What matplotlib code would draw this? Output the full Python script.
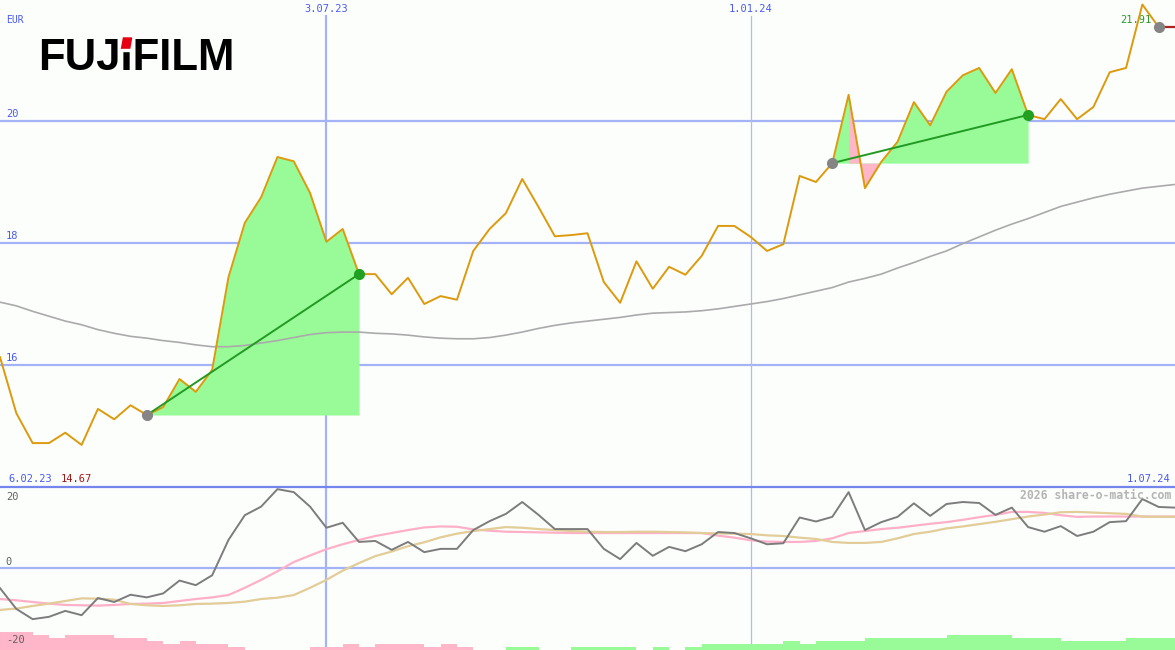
import numpy as np
import pandas as pd
import matplotlib.pyplot as plt
from matplotlib.patches import Polygon

# weekly closing prices in EUR
price = [16.13, 15.21, 14.72, 14.72, 14.89, 14.69, 15.28, 15.11, 15.34, 15.18,
         15.31, 15.77, 15.56, 15.92, 17.44, 18.33, 18.75, 19.41, 19.34, 18.82,
         18.02, 18.23, 17.49, 17.49, 17.16, 17.43, 17.00, 17.13, 17.07, 17.87,
         18.23, 18.49, 19.05, 18.59, 18.11, 18.13, 18.16, 17.36, 17.02, 17.70,
         17.25, 17.61, 17.48, 17.79, 18.28, 18.28, 18.10, 17.87, 17.98, 19.10,
         19.00, 19.31, 20.43, 18.90, 19.33, 19.66, 20.31, 19.93, 20.48, 20.75,
         20.87, 20.46, 20.85, 20.10, 20.03, 20.36, 20.03, 20.23, 20.80, 20.87,
         21.91, 21.54]

# long moving average (grey)
ma = [17.03, 16.97, 16.88, 16.80, 16.72, 16.66, 16.58, 16.52, 16.47, 16.44,
      16.40, 16.37, 16.33, 16.30, 16.30, 16.32, 16.36, 16.40, 16.45, 16.50,
      16.53, 16.54, 16.54, 16.52, 16.51, 16.49, 16.46, 16.44, 16.43, 16.43,
      16.45, 16.49, 16.54, 16.60, 16.65, 16.69, 16.72, 16.75, 16.78, 16.82,
      16.85, 16.86, 16.87, 16.89, 16.92, 16.96, 17.00, 17.04, 17.09, 17.15,
      17.21, 17.27, 17.36, 17.42, 17.49, 17.59, 17.68, 17.78, 17.87, 17.99,
      18.10, 18.21, 18.31, 18.40, 18.50, 18.60, 18.67, 18.74, 18.80, 18.85,
      18.90, 18.93, 18.96]

# lower panel: momentum and its two averages
momentum = [-6.1, -12.4, -15.5, -14.8, -13.0, -14.3, -9.1, -10.3, -8.1, -8.9,
            -7.7, -3.8, -5.2, -2.2, 8.5, 16.0, 18.6, 23.9, 23.0, 18.6,
            12.2, 13.7, 7.9, 8.2, 5.5, 7.9, 4.8, 5.8, 5.8, 11.5,
            14.2, 16.4, 20.0, 16.1, 11.8, 11.8, 11.8, 5.8, 2.7, 7.6,
            3.7, 6.4, 5.1, 7.2, 10.9, 10.6, 9.0, 7.2, 7.5, 15.3,
            14.1, 15.5, 23.0, 11.5, 13.9, 15.5, 19.6, 15.8, 19.4, 20.0,
            19.7, 16.1, 18.3, 12.4, 11.0, 12.7, 9.7, 11.0, 13.9, 14.2,
            20.9, 18.5, 18.3]
mom_fast = [-9.4, -9.8, -10.3, -10.8, -11.2, -11.3, -11.4, -11.2, -10.9, -10.8,
            -10.6, -10.0, -9.4, -8.9, -8.2, -6.0, -3.6, -1.0, 1.8, 3.8,
            5.7, 7.2, 8.5, 9.7, 10.6, 11.5, 12.3, 12.6, 12.5, 11.7,
            11.3, 11.0, 10.9, 10.8, 10.7, 10.6, 10.6, 10.6, 10.6, 10.6,
            10.6, 10.6, 10.6, 10.6, 9.8, 9.2, 8.4, 8.0, 7.9, 7.9,
            8.2, 9.0, 10.6, 11.2, 11.8, 12.2, 12.8, 13.4, 13.9, 14.6,
            15.4, 16.1, 17.0, 17.0, 16.7, 16.0, 15.5, 15.6, 15.6, 15.6,
            15.6, 15.6, 15.6]
mom_slow = [-12.7, -12.3, -11.5, -10.8, -10.0, -9.2, -9.3, -9.6, -10.9, -11.3,
            -11.5, -11.3, -10.9, -10.8, -10.6, -10.2, -9.4, -9.0, -8.2, -6.0,
            -3.6, -0.8, 1.5, 3.6, 5.0, 6.6, 7.8, 9.3, 10.4, 11.2,
            11.8, 12.4, 12.2, 11.8, 11.5, 11.2, 11.0, 10.9, 10.9, 11.0,
            11.0, 10.9, 10.8, 10.6, 10.5, 10.4, 10.3, 9.9, 9.7, 9.2,
            8.8, 7.9, 7.6, 7.6, 7.9, 9.0, 10.3, 11.0, 12.0, 12.6,
            13.3, 14.0, 14.8, 15.6, 16.2, 16.9, 17.0, 16.8, 16.6, 16.4,
            15.6, 15.5, 15.5]
# signal strength bars at the bottom (negative pink, positive green)
signal = [-6, -6, -5, -4, -5, -5, -5, -4, -4, -3,
          -2, -3, -2, -2, -1, 0, 0, 0, 0, -1,
          -1, -2, -1, -2, -2, -2, -1, -2, -1, 0,
          0, 1, 1, 0, 0, 1, 1, 1, 1, 0,
          1, 0, 1, 2, 2, 2, 2, 2, 3, 2,
          3, 3, 3, 4, 4, 4, 4, 4, 5, 5,
          5, 5, 4, 4, 4, 3, 3, 3, 3, 4,
          4, 4]

# trend periods (start index, end index)
trends = [(9, 22), (51, 63)]

start = pd.Timestamp('2023-02-13')
end = pd.Timestamp('2024-07-01')
vdates = [pd.Timestamp('2023-07-03'), pd.Timestamp('2024-01-01')]
vlabels = ['3.07.23', '1.01.24']
price_grid = [16, 18, 20]

BG = '#fcfefc'
BLUE_TXT = '#4a5af0'
GRID = '#a3b3f5'
GREEN_FILL = '#98fb98'
PINK_FILL = '#ffb6c8'
FS = 7.5

plt.rcParams['font.family'] = ['DejaVu Sans Mono']

dates = pd.date_range(start, periods=len(price), freq='7D')
ind_dates = pd.date_range(start, periods=len(momentum), freq='7D')
p = np.array(price)

fig = plt.figure(figsize=(11.75, 6.5), dpi=100, facecolor=BG)
ax = fig.add_axes([0, 163 / 650, 1, 487 / 650], facecolor=BG)
ax2 = fig.add_axes([0, 0, 1, 163 / 650], facecolor=BG)

for a in (ax, ax2):
    a.set_xlim(start, end)
    a.set_xticks([])
    a.set_yticks([])
    for s in a.spines.values():
        s.set_visible(False)

ax.set_ylim(14.0, 21.984)
ax2.set_ylim(-24.85, 24.55)

# grid
for v in price_grid:
    ax.axhline(v, color=GRID, lw=1.6, zorder=1)
    ax.text(0.005, v + 0.04, str(v), color=BLUE_TXT, fontsize=FS,
            transform=ax.get_yaxis_transform(), va='bottom')
ax.axvline(vdates[0], ymax=0.967, color=GRID, lw=1.6, zorder=1)
ax.axvline(vdates[1], ymax=0.967, color='#b4bce6', lw=0.9, zorder=1)
ax2.axvline(vdates[0], color=GRID, lw=1.6, zorder=1)
ax2.axvline(vdates[1], color='#b4bce6', lw=0.9, zorder=1)
for d, lab in zip(vdates, vlabels):
    ax.text(d, 0.982, lab, color=BLUE_TXT, fontsize=FS, ha='center', va='center',
            transform=ax.get_xaxis_transform())

# trend fills
for s, e in trends:
    base = p[s]
    xs = dates[s:e + 1]
    ys = p[s:e + 1]
    ax.fill_between(xs, ys, base, color=GREEN_FILL, lw=0, zorder=2)
    seg_pink = [min(ys[i], ys[i + 1]) < base for i in range(len(ys) - 1)]
    flag = [(i > 0 and seg_pink[i - 1]) or (i < len(seg_pink) and seg_pink[i])
            for i in range(len(ys))]
    if any(flag):
        ax.fill_between(xs, ys, base, where=flag, color=PINK_FILL, lw=0, zorder=2)
    ax.plot([dates[s], dates[e]], [p[s], p[e]], color='#229a22', lw=1.4, zorder=6)
    ax.plot(dates[s], p[s], 'o', ms=7, color='#858585', zorder=7)
    ax.plot(dates[e], p[e], 'o', ms=7, color='#22a022', zorder=7)

ax.plot(ind_dates, ma, color='#aaaaaa', lw=1.2, zorder=4)
ax.plot(dates, p, color='#dc9a0c', lw=1.4, zorder=5)
ax.plot([dates[-1], end], [p[-1], p[-1]], color='#b02222', lw=1.6, zorder=5)
ax.plot(dates[-1], p[-1], 'o', ms=7, color='#858585', zorder=7)

ax.text(0.005, 0.958, 'EUR', color=BLUE_TXT, fontsize=7, va='center',
        transform=ax.transAxes)
ax.text(0.98, 0.959, f'{p.max():.2f}', color='#2a9a2a', fontsize=FS, ha='right',
        va='center', transform=ax.transAxes)
ax.text(0.007, 0.016, '6.02.23', color=BLUE_TXT, fontsize=FS, va='center',
        transform=ax.transAxes)
ax.text(0.052, 0.016, f'{p.min() - 0.02:.2f}', color='#a01818', fontsize=FS,
        va='center', transform=ax.transAxes)
ax.text(0.996, 0.016, '1.07.24', color=BLUE_TXT, fontsize=FS, ha='right',
        va='center', transform=ax.transAxes)

# logo, with the red cap on the first I
logo_y = 0.8563
logo = ax.text(0.0323, logo_y, 'FUJIFILM', color='black', fontsize=31.5,
               family='Liberation Sans', weight='bold', va='baseline',
               transform=ax.transAxes, zorder=8)
fig.canvas.draw()
r = fig.canvas.get_renderer()
probe = ax.text(0.0323, logo_y, 'FUJ', fontsize=31.5, family='Liberation Sans',
                weight='bold', va='baseline', transform=ax.transAxes, alpha=0)
bb_fuj = probe.get_window_extent(r)
probe.set_text('FUJI')
bb_fuji = probe.get_window_extent(r)
probe.remove()
x0, x1 = bb_fuj.x1 + 2, bb_fuji.x1 - 2
base_y = ax.transAxes.transform((0, logo_y))[1]
yt, yb = base_y + 32, base_y + 21
to_fig = fig.transFigure.inverted()
red = Polygon(to_fig.transform([(x0 + 1, yt), (x1 + 1, yt), (x1 - 1, yb), (x0 - 1, yb)]),
              closed=True, transform=fig.transFigure, color='#e60012', zorder=9)
gap = Polygon(to_fig.transform([(x0 - 1, yb), (x1 + 1, yb), (x1 + 1, yb - 2), (x0 - 1, yb - 2)]),
              closed=True, transform=fig.transFigure, color=BG, zorder=9)
fig.add_artist(red)
fig.add_artist(gap)

# lower panel
ax2.spines['top'].set_visible(True)
ax2.spines['top'].set_color('#7585ee')
ax2.spines['top'].set_linewidth(1.6)
ax2.axhline(0, color=GRID, lw=1.6, zorder=1)
ax2.plot(ind_dates, mom_fast, color='#ffb0c8', lw=1.6, zorder=3)
ax2.plot(ind_dates, mom_slow, color='#e2cc98', lw=1.6, zorder=3)
ax2.plot(ind_dates, momentum, color='#7c7c7c', lw=1.4, zorder=4)

ax3 = ax2.twinx()
ax3.set_ylim(0, 163 / 3)
ax3.set_axis_off()
bar_dates = pd.date_range(start, periods=len(signal), freq='7D')
ax3.bar(bar_dates, np.abs(signal), width=7, align='edge', lw=0,
        color=[GREEN_FILL if v > 0 else PINK_FILL for v in signal], zorder=1)
ax3.set_xlim(start, end)

ax3.text(0.005, 0.94, '20', color='#606060', fontsize=FS, va='center',
         transform=ax3.transAxes)
ax3.text(0.005, 0.54, '0', color='#606060', fontsize=FS, va='center',
         transform=ax3.transAxes)
ax3.text(0.005, 0.06, '-20', color='#606060', fontsize=FS, va='center',
         transform=ax3.transAxes)
ax3.text(0.997, 0.945, '2026 share-o-matic.com', color='#b4b4b4', fontsize=8.3,
         weight='bold', ha='right', va='center', transform=ax3.transAxes)

fig.savefig('out.png', dpi=100, facecolor=BG)
